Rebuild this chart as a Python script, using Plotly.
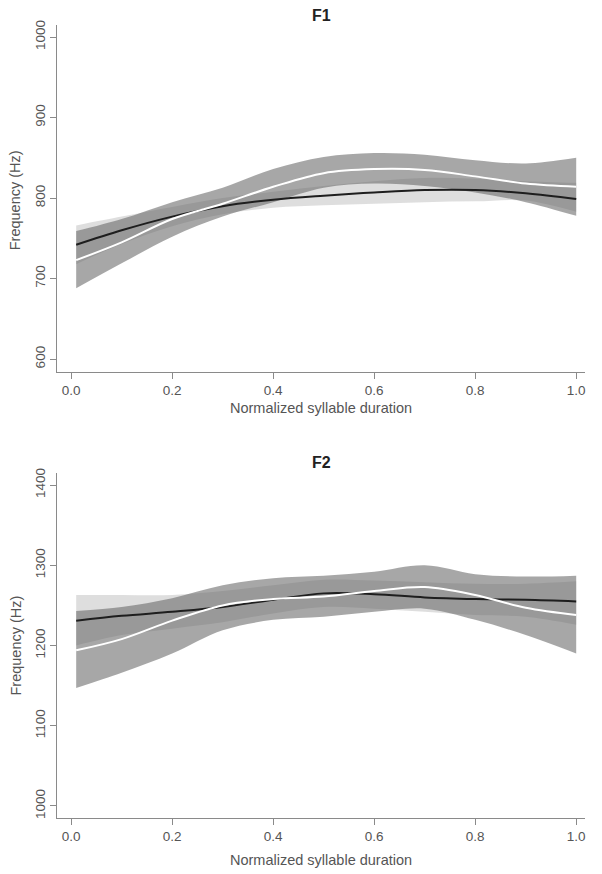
import plotly.graph_objects as go
from plotly.subplots import make_subplots

# punkty wzdłuż znormalizowanego czasu sylaby
x = [0.01, 0.1, 0.2, 0.3, 0.4, 0.5, 0.6, 0.7, 0.8, 0.9, 1.0]

# F1 - czarna linia (jasne pasmo) i biała linia (ciemne pasmo)
f1_black = [742, 760, 777, 790, 798, 803, 807, 810, 810, 806, 799]
f1_black_hi = [766, 777, 789, 800, 808, 815, 821, 825, 824, 821, 819]
f1_black_lo = [718, 743, 765, 780, 788, 791, 793, 795, 796, 797, 783]
f1_white = [723, 745, 774, 793, 814, 831, 836, 835, 827, 818, 814]
f1_white_hi = [759, 774, 795, 813, 836, 851, 856, 854, 847, 843, 850]
f1_white_lo = [688, 719, 752, 777, 795, 813, 818, 815, 807, 795, 778]

# F2
f2_black = [1231, 1237, 1242, 1248, 1257, 1265, 1264, 1260, 1258, 1257, 1255]
f2_black_hi = [1263, 1263, 1263, 1268, 1275, 1282, 1281, 1279, 1277, 1277, 1280]
f2_black_lo = [1200, 1213, 1221, 1229, 1240, 1248, 1246, 1242, 1238, 1236, 1226]
f2_white = [1194, 1208, 1231, 1250, 1258, 1261, 1268, 1273, 1263, 1247, 1238]
f2_white_hi = [1243, 1248, 1259, 1275, 1284, 1287, 1292, 1300, 1289, 1286, 1287]
f2_white_lo = [1147, 1166, 1190, 1219, 1232, 1236, 1242, 1246, 1232, 1213, 1190]

x_ticks = [0.0, 0.2, 0.4, 0.6, 0.8, 1.0]
f1_ticks = [600, 700, 800, 900, 1000]
f2_ticks = [1000, 1100, 1200, 1300, 1400]

LIGHT = "rgba(100,100,100,0.21)"
DARK = "rgba(100,100,100,0.57)"
FONT = "Liberation Sans, Arial, sans-serif"

fig = make_subplots(rows=2, cols=1)


def add_panel(row, black, black_hi, black_lo, white, white_hi, white_lo):
    # pasmo wokół czarnej linii
    fig.add_trace(go.Scatter(x=x, y=black_hi, mode="lines", line=dict(width=0, shape="spline"),
                             showlegend=False, hoverinfo="skip"), row=row, col=1)
    fig.add_trace(go.Scatter(x=x, y=black_lo, mode="lines", line=dict(width=0, shape="spline"),
                             fill="tonexty", fillcolor=LIGHT, showlegend=False, hoverinfo="skip"),
                  row=row, col=1)
    # pasmo wokół białej linii
    fig.add_trace(go.Scatter(x=x, y=white_hi, mode="lines", line=dict(width=0, shape="spline"),
                             showlegend=False, hoverinfo="skip"), row=row, col=1)
    fig.add_trace(go.Scatter(x=x, y=white_lo, mode="lines", line=dict(width=0, shape="spline"),
                             fill="tonexty", fillcolor=DARK, showlegend=False, hoverinfo="skip"),
                  row=row, col=1)
    fig.add_trace(go.Scatter(x=x, y=black, mode="lines", line=dict(color="#1e1e1e", width=2, shape="spline"),
                             showlegend=False), row=row, col=1)
    fig.add_trace(go.Scatter(x=x, y=white, mode="lines", line=dict(color="white", width=2, shape="spline"),
                             showlegend=False), row=row, col=1)


add_panel(1, f1_black, f1_black_hi, f1_black_lo, f1_white, f1_white_hi, f1_white_lo)
add_panel(2, f2_black, f2_black_hi, f2_black_lo, f2_white, f2_white_hi, f2_white_lo)

axis_style = dict(showline=True, linecolor="#8a8a8a", linewidth=1, showgrid=False, zeroline=False,
                  ticks="outside", ticklen=6, tickcolor="#8a8a8a",
                  tickfont=dict(family=FONT, size=13.5, color="#555555"))

fig.update_xaxes(**axis_style, range=[-0.028, 1.0174], tickvals=x_ticks, tickformat=".1f")
fig.update_yaxes(**axis_style, tickangle=-90)
# strona ma 8px marginesu body, więc figura jest o 8px mniejsza
fig.update_layout(
    width=594, height=866,
    margin=dict(l=49, r=17, t=17, b=56),
    plot_bgcolor="white", paper_bgcolor="white",
    xaxis=dict(domain=[0, 1]),
    xaxis2=dict(domain=[0, 1]),
    yaxis=dict(domain=[0.5624, 1.0], range=[584, 1015], tickvals=f1_ticks),
    yaxis2=dict(domain=[0.0, 0.435], range=[985, 1415], tickvals=f2_ticks),
)

ann = []
for title, ty, xt_y, yt_y in [("F1", 1.0126, 0.517, 0.779), ("F2", 0.4477, -0.053, 0.2175)]:
    ann.append(dict(text="<b>%s</b>" % title, x=0.5, y=ty, xref="paper", yref="paper",
                    showarrow=False, font=dict(family=FONT, size=16, color="#222"), yanchor="middle"))
    ann.append(dict(text="Normalized syllable duration", x=0.5, y=xt_y, xref="paper", yref="paper",
                    showarrow=False, font=dict(family=FONT, size=14.5, color="#555555"), yanchor="middle"))
    ann.append(dict(text="Frequency (Hz)", x=-0.0795, y=yt_y, xref="paper", yref="paper", textangle=-90,
                    showarrow=False, font=dict(family=FONT, size=14.5, color="#555555"),
                    xanchor="center", yanchor="middle"))
fig.update_layout(annotations=ann)

fig.write_html("out.html")
